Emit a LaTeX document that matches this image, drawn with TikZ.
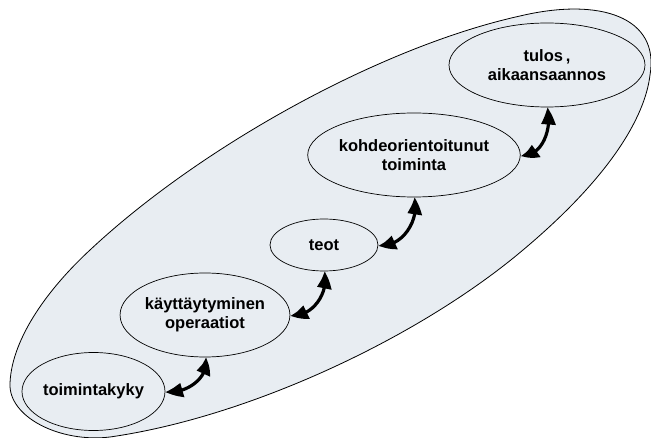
\documentclass[tikz,border=0pt]{standalone}
\usepackage{fontspec}
\setmainfont{Liberation Sans}
\usetikzlibrary{shapes.geometric,arrows.meta,bending}
\definecolor{paleblue}{RGB}{232,237,242}
\tikzset{
  stage/.style={ellipse, draw=black, line width=0.7pt, fill=paleblue,
    inner sep=0pt, align=center,
    font=\fontsize{16.5}{19}\selectfont\bfseries},
  link/.style={line width=3.2pt, black,
    {Triangle[length=17pt,width=14pt,bend]}-{Triangle[length=17pt,width=14pt,bend]}},
}
\begin{document}
\begin{tikzpicture}[x=1pt,y=1pt]
\useasboundingbox (0,0) rectangle (651,437);
% enclosing region
\draw[line width=0.8pt, fill=paleblue]
  (110,0) .. controls (60,-6) and (8,20) .. (10,54)
  .. controls (12,100) and (50,150) .. (90,187)
  .. controls (200,290) and (380,390) .. (520,421)
  .. controls (600,440) and (660,420) .. (650,362)
  .. controls (645,320) and (610,260) .. (523,187)
  .. controls (420,100) and (250,20) .. (110,0) -- cycle;
% stages
\node[stage, minimum width=143pt, minimum height=78pt] (tk) at (93.5,45.5) {toimintakyky};
\node[stage, minimum width=166pt, minimum height=84pt] (ka) at (205,122) {käyttäytyminen\\operaatiot};
\node[stage, minimum width=108pt, minimum height=52pt] (te) at (324,192) {teot};
\node[stage, minimum width=196pt, minimum height=84pt] (ko) at (414,282) {kohdeorientoitunut\\toiminta};
\node[stage, minimum width=196pt, minimum height=84pt] (tu) at (547,372) {tulos\,,\\aikaansaannos};
% two-way links
\draw[link] (tk.east) to[out=-10,in=-73] (ka.south);
\draw[link] (ka.east) to[out=-10,in=-73] (te.south);
\draw[link] (te.east) to[out=-10,in=-73] (ko.south);
\draw[link] (ko.east) to[out=-10,in=-73] (tu.south);
\end{tikzpicture}
\end{document}
